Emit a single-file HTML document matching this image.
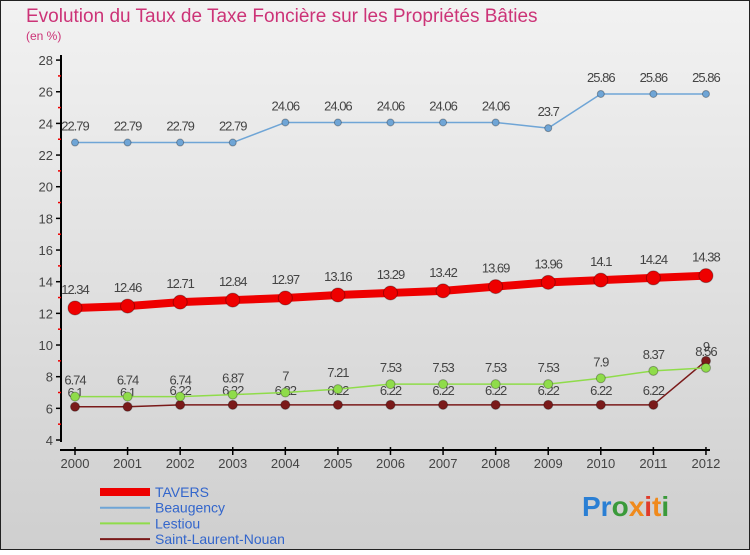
<!DOCTYPE html>
<html><head><meta charset="utf-8"><style>
body{margin:0}
#c{width:750px;height:550px;position:relative;font-family:"Liberation Sans",sans-serif;}
</style></head><body>
<div id="c">
<svg id="s" width="750" height="550" xmlns="http://www.w3.org/2000/svg">
<defs><linearGradient id="bg" x1="0" y1="0" x2="0" y2="1"><stop offset="0" stop-color="#f2f2f2"/><stop offset="1" stop-color="#cfcfcf"/></linearGradient></defs>
<rect x="0.5" y="0.5" width="749" height="549" fill="url(#bg)" stroke="#222"/>
<text x="26" y="22" font-size="19" fill="#cc3377">Evolution du Taux de Taxe Foncière sur les Propriétés Bâties</text>
<text x="26" y="40" font-size="12" fill="#cc3377">(en %)</text>
<g id="axes"></g><g id="series"></g><g id="legend"></g>
<text x="582" y="516" font-size="28" font-weight="bold"><tspan fill="#2a7fd4">Pr</tspan><tspan fill="#3a9a3a">o</tspan><tspan fill="#f08a1c">x</tspan><tspan fill="#e03a2a">i</tspan><tspan fill="#f08a1c">t</tspan><tspan fill="#3a9a3a">i</tspan></text>
</svg></div>
<script>
const years=[2000,2001,2002,2003,2004,2005,2006,2007,2008,2009,2010,2011,2012];
const tavers=[12.34,12.46,12.71,12.84,12.97,13.16,13.29,13.42,13.69,13.96,14.1,14.24,14.38];
const beaugency=[22.79,22.79,22.79,22.79,24.06,24.06,24.06,24.06,24.06,23.7,25.86,25.86,25.86];
const lestiou=[6.74,6.74,6.74,6.87,7,7.21,7.53,7.53,7.53,7.53,7.9,8.37,8.56];
const stlaurent=[6.1,6.1,6.22,6.22,6.22,6.22,6.22,6.22,6.22,6.22,6.22,6.22,9];
const yTicks=[4,6,8,10,12,14,16,18,20,22,24,26,28];
const NS="http://www.w3.org/2000/svg";
const x=i=>75+i*52.58;
const y=v=>440-(v-4)*15.83;
function mk(p,t,a){const e=document.createElementNS(NS,t);for(const k in a)e.setAttribute(k,a[k]);p.appendChild(e);return e;}
const ax=document.getElementById('axes');
let l=mk(ax,'line',{x1:61,y1:55,x2:61,y2:442,stroke:'#000','stroke-width':2});


l=mk(ax,'line',{x1:60,y1:450,x2:710,y2:450,stroke:'#000','stroke-width':2});


yTicks.forEach(v=>{
 const t=mk(ax,'line',{x1:56,y1:y(v),x2:62,y2:y(v),stroke:'#000','stroke-width':1.5});
 
 
 if(v<28){const m=mk(ax,'line',{x1:58,y1:y(v+1),x2:61,y2:y(v+1),stroke:'#e00','stroke-width':1.5});
 
 }
 const tx=mk(ax,'text',{x:53,y:y(v)+5,'font-size':13,fill:'#444','text-anchor':'end'});tx.textContent=v;
 
 
});
years.forEach((yr,i)=>{
 const t=mk(ax,'line',{x1:x(i),y1:447,x2:x(i),y2:455,stroke:'#000','stroke-width':1.5});
 
 
 const tx=mk(ax,'text',{x:x(i),y:468,'font-size':13,fill:'#444','text-anchor':'middle'});tx.textContent=yr;
 
 
});
const sg=document.getElementById('series');
function series(name,data,color,w,r,lblOff){
 const g=mk(sg,'g',{});
 
 
 const pl=mk(g,'polyline',{points:data.map((v,i)=>x(i)+','+y(v)).join(' '),fill:'none',stroke:color,'stroke-width':w,'stroke-linejoin':'round'});
 
 
 data.forEach((v,i)=>{
  const c=mk(g,'circle',{cx:x(i),cy:y(v),r:r,fill:color,stroke:'rgba(0,0,0,0.3)'});
  
  
  const t=mk(g,'text',{x:x(i),y:y(v)-lblOff,'font-size':13,fill:'#444','text-anchor':'middle','letter-spacing':'-1'});t.textContent=v;
  
  
 });
}
series('beaugency',beaugency,'#6fa5d6',1.5,3.5,12);
series('saint-laurent-nouan',stlaurent,'#7a1a1a',1.5,4.5,10);
series('lestiou',lestiou,'#8fdc4a',1.5,4.5,12);
series('tavers',tavers,'#ee0000',8,7,14);
const lg=document.getElementById('legend');
[['TAVERS','#ee0000',8],['Beaugency','#6fa5d6',2],['Lestiou','#8fdc4a',2],['Saint-Laurent-Nouan','#7a1a1a',2]].forEach((d,i)=>{
 const g=mk(lg,'g',{});
 
 
 mk(g,'line',{x1:100,y1:492+i*15.7,x2:150,y2:492+i*15.7,stroke:d[1],'stroke-width':d[2]});
 const t=mk(g,'text',{x:155,y:497+i*15.7,'font-size':14,fill:'#3366cc'});t.textContent=d[0];
});
</script>
</body></html>
